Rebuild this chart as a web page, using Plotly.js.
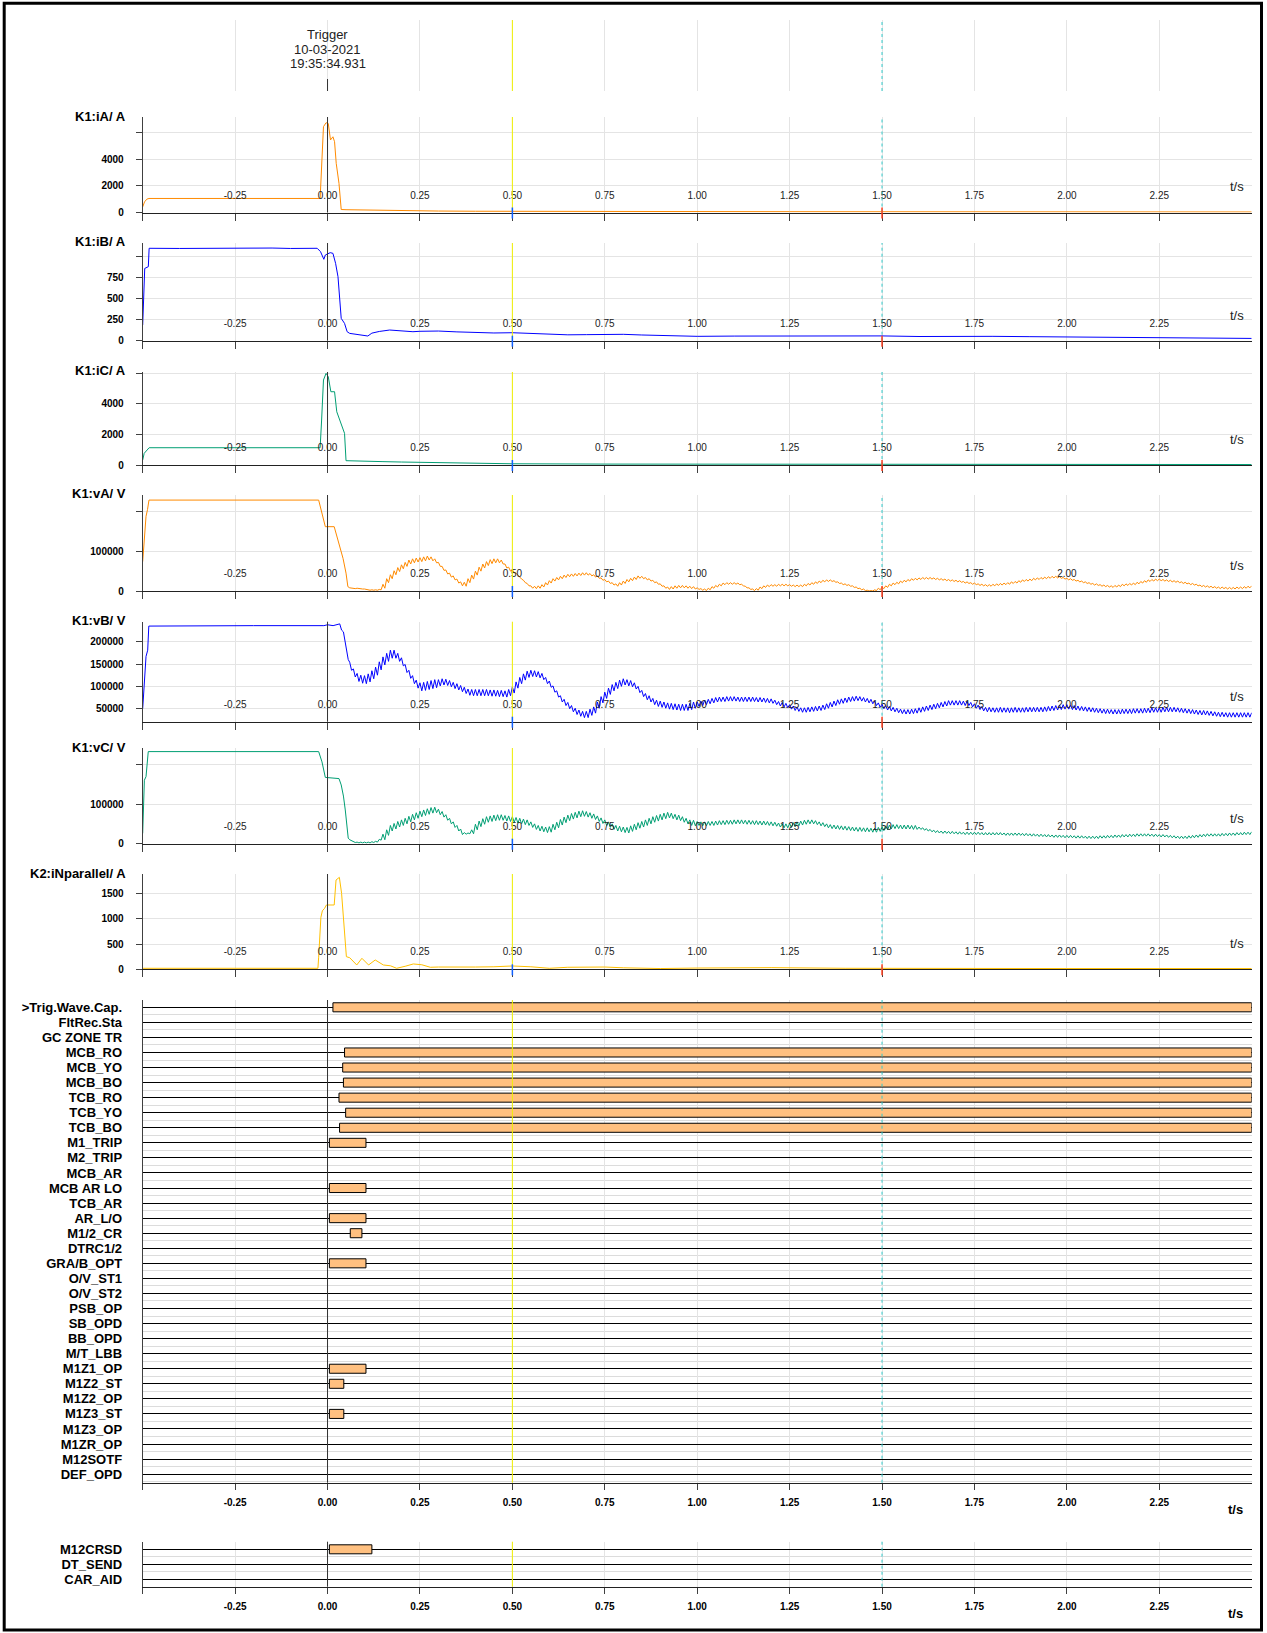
<!DOCTYPE html>
<html><head><meta charset="utf-8">
<script src="https://cdn.plot.ly/plotly-3.0.1.min.js"></script>
<style>html,body{margin:0;padding:0;background:#fff}#chart{width:1267px;height:1633px}</style>
</head><body><div id="chart"></div>
<script>
// ================= DATA =================
const trigLines = ['Trigger', '10-03-2021', '19:35:34.931'];
const xTickVals = [-0.5, -0.25, 0, 0.25, 0.5, 0.75, 1, 1.25, 1.5, 1.75, 2, 2.25];
const xTickText = ['', '-0.25', '0.00', '0.25', '0.50', '0.75', '1.00', '1.25', '1.50', '1.75', '2.00', '2.25'];
const cursorA = 0.5, cursorB = 1.5;

// K1:iA (A)
const iA_t = [-0.5,-0.495,-0.489,-0.483,-0.02,-0.0157,-0.011,-0.004,0.002,0.008,0.0146,0.019,0.0235,0.031,0.037,0.05,0.1,0.15,0.2,0.25,0.3,0.4,0.5,0.75,1.0,1.25,1.5,1.75,2.0,2.25,2.5];
const iA   = [420,800,1000,1057,1057,3440,6460,6760,6700,5460,5700,5330,3700,2190,226,210,180,160,140,126,110,95,85,75,65,60,55,50,45,45,40];
// K1:iB (A)
const iB_t = [-0.5,-0.4985,-0.4975,-0.496,-0.4945,-0.4848,-0.4826,-0.4,-0.3,-0.2,-0.15,-0.1,-0.05,-0.028,-0.019,-0.01,-0.006,0.0072,0.0146,0.0218,0.0283,0.033,0.037,0.046,0.053,0.06,0.087,0.109,0.12,0.14,0.168,0.2,0.231,0.25,0.3,0.35,0.4,0.45,0.5,0.55,0.6,0.65,0.7,0.75,0.8,0.85,0.9,0.95,1.0,1.1,1.2,1.3,1.4,1.5,1.6,1.7,1.8,1.9,2.0,2.1,2.2,2.3,2.4,2.5];
const iB   = [186,444,683,802,860,881,1100,1098,1102,1100,1103,1098,1104,1100,1060,969,1020,1048,1040,921,762,484,266,206,107,87,67,56,90,110,127,115,107,112,115,105,95,92,95,88,80,70,72,78,76,68,60,55,52,55,56,52,55,57,50,55,52,48,45,42,40,35,30,27];
// K1:iC (A)
const iC_t = [-0.5,-0.496,-0.4826,-0.02,-0.016,-0.011,-0.004,0.002,0.009,0.019,0.025,0.037,0.046,0.05,0.104,0.15,0.2,0.25,0.3,0.4,0.5,0.75,1.0,1.25,1.5,1.75,2.0,2.25,2.5];
const iC   = [327,763,1130,1130,2940,5555,5990,5770,4790,4790,3480,2725,2070,281,270,220,195,176,150,110,80,60,50,45,40,35,30,30,30];
// K2:iNparallel (A)
const iN_t = [-0.5,-0.026,-0.024,-0.021,-0.018,-0.014,-0.008,-0.003,0.018,0.023,0.032,0.038,0.045,0.051,0.06,0.079,0.093,0.111,0.129,0.151,0.17,0.187,0.21,0.232,0.255,0.278,0.3,0.35,0.4,0.45,0.5,0.55,0.6,0.65,0.7,0.75,0.8,0.9,1.0,1.2,1.4,1.6,2.0,2.5];
const iN   = [20,20,240,770,1030,1160,1210,1276,1276,1772,1825,1508,845,250,230,86,218,86,185,86,70,20,60,106,90,40,45,40,45,50,66,50,20,40,50,45,30,15,25,33,20,15,15,15];

// Voltages in kV: pre-fault part (irregular times) + post-fault samples from POST_T0 every POST_DT
const POST_T0 = 0.06, POST_DT = 0.005;
const vA_pre_t  = [-0.5,-0.496,-0.491,-0.487,-0.483,-0.024,-0.017,-0.012,-0.006,0.018,0.024,0.033,0.042,0.050,0.055];
const vA_pre_kV = [74,128,188,205,229,229,204,179,162,162,141,110,82,45,11];
const vA_post_kV = [
8,7, 7,6, 7,6, 6,5,
5,4, 3,2, 3,2, 3,2, 4,3, 17,7, 31,21, 41,31, 51,41, 59,49,
66,56, 72,62, 78,68, 81,71, 83,73, 84,74, 86,76, 88,78, 86,76, 81,71,
72,62, 62,52, 53,43, 45,35, 38,28, 30,20, 23,13, 22,12, 31,21, 40,30,
50,40, 60,50, 68,58, 74,64, 79,69, 81,71, 81,71, 78,68, 68,58, 60,50,
53,47, 45,39, 36,30, 27,21, 19,13, 13,7, 12,6, 13,7, 16,10, 21,15,
26,20, 31,25, 34,28, 37,31, 40,34, 42,36, 43,37, 44,38, 45,39, 46,40,
46,40, 44,38, 41,35, 38,32, 33,27, 29,23, 25,19, 21,15, 18,12, 21,15,
25,19, 29,23, 32,26, 35,29, 38,32, 37,31, 34,28, 31,25, 27,21, 23,17,
18,12, 13,7, 10,4, 11,5, 13,7, 14,8, 14,8, 13,7, 12,6, 11,5,
8,4, 6,2, 5,1, 7,3, 11,7, 14,10, 17,13, 20,16, 21,17, 21,17,
21,17, 20,16, 17,13, 12,8, 8,4, 5,1, 6,2, 10,6, 13,9, 15,11,
16,12, 16,12, 17,13, 17,13, 17,13, 16,12, 15,11, 15,11, 15,11, 17,13,
19,15, 21,17, 23,19, 25,21, 27,23, 28,24, 28,24, 26,22, 23,19, 20,16,
18,14, 16,12, 13,9, 10,6, 7,3, 5,1, 2,0, 1,0, 3,1, 7,3,
10,6, 13,9, 17,13, 20,16, 22,18, 25,21, 27,23, 29,25, 31,27, 32,28,
33,29, 34,30, 34,30, 34,30, 33,29, 32,28, 31,27, 30,26, 29,25, 28,24,
27,23, 26,22, 24,20, 23,19, 21,17, 20,16, 18,14, 17,13, 16,12, 16,12,
17,13, 18,14, 19,15, 20,16, 21,17, 23,19, 24,20, 26,22, 28,24, 29,25,
30,26, 32,28, 33,29, 34,30, 35,31, 36,32, 37,33, 37,33, 36,32, 34,30,
32,28, 31,27, 29,25, 27,23, 25,21, 23,19, 21,17, 19,15, 18,14, 16,12,
15,11, 14,10, 13,9, 14,10, 15,11, 17,13, 18,14, 19,15, 20,16, 22,18,
24,20, 26,22, 28,24, 29,25, 30,26, 30,26, 29,25, 28,24, 27,23, 26,22,
25,21, 23,19, 22,18, 20,16, 19,15, 17,13, 15,11, 14,10, 13,9, 12,8,
11,7, 10,6, 10,6, 9,5, 9,5, 9,5, 10,6, 10,6, 11,7, 12,8,
13];

const vB_pre_t  = [-0.5,-0.4964,-0.4937,-0.491,-0.4865,-0.4835,-0.2,-0.1,-0.01,0.0,0.015,0.033,0.038,0.043,0.048,0.052,0.056];
const vB_pre_kV = [50,92,137,167,181,235,236,236,236,238,236,240,226,222,196,174,160];
const vB_post_kV = [
154,136, 139,121, 129,111, 125,107,
124,106, 128,110, 135,117, 143,125, 155,137, 166,148, 174,156, 181,163, 181,163, 174,156,
164,146, 149,131, 136,118, 124,106, 114,96, 108,90, 109,91, 111,93, 113,95, 115,97,
115,101, 117,103, 116,102, 113,99, 109,95, 106,92, 102,88, 98,84, 94,80, 93,79,
93,79, 93,79, 93,79, 93,79, 92,78, 92,78, 91,77, 91,77, 90,76, 93,79,
99,85, 110,96, 120,106, 128,114, 134,120, 136,122, 135,121, 133,119, 129,115, 120,106,
112,98, 101,87, 90,76, 79,65, 71,57, 64,50, 57,43, 51,37, 47,33, 44,30,
44,30, 49,35, 54,40, 65,51, 77,63, 87,73, 96,82, 104,90, 109,95, 114,100,
117,103, 115,101, 113,99, 108,94, 100,86, 91,77, 84,70, 79,65, 73,59, 69,55,
67,53, 65,51, 63,49, 62,48, 61,47, 60,46, 60,46, 60,46, 62,48, 65,51,
65,55, 67,57, 69,59, 71,61, 73,63, 75,65, 76,66, 76,66, 77,67, 77,67,
77,67, 76,66, 76,66, 76,66, 76,66, 76,66, 75,65, 75,65, 74,64, 73,63,
72,62, 69,59, 66,56, 64,54, 62,52, 59,49, 56,46, 54,44, 52,42, 52,42,
53,43, 54,44, 55,45, 56,46, 58,48, 61,51, 64,54, 67,57, 70,60, 72,62,
74,64, 76,66, 77,67, 78,68, 77,67, 75,65, 73,63, 71,61, 67,57, 63,53,
60,50, 57,47, 55,45, 53,43, 51,41, 49,39, 48,38, 48,38, 49,39, 50,40,
52,42, 54,44, 56,46, 58,48, 60,50, 62,52, 64,54, 66,56, 68,58, 68,58,
68,58, 68,58, 67,57, 67,57, 64,54, 61,51, 58,48, 55,45, 53,43, 53,43,
52,42, 52,42, 53,42, 52,42, 52,41, 52,42, 53,42, 52,42, 52,42, 53,43,
53,43, 53,43, 53,43, 53,43, 54,44, 55,45, 56,46, 57,47, 58,48, 59,49,
59,49, 58,48, 57,47, 56,46, 55,45, 54,44, 53,43, 52,42, 51,41, 50,40,
49,39, 49,39, 48,38, 48,38, 48,38, 49,39, 49,39, 49,39, 50,40, 50,40,
50,40, 51,41, 51,41, 52,42, 52,42, 52,42, 53,43, 53,43, 53,43, 53,43,
52,42, 51,41, 50,40, 49,39, 48,38, 47,37, 46,36, 46,36, 45,35, 44,34,
43,33, 42,32, 42,32, 41,31, 41,31, 41,31, 41,31, 41,31, 41,31, 41,31,
41];

const vC_pre_t  = [-0.5,-0.498,-0.4955,-0.491,-0.485,-0.024,-0.015,-0.006,0.031,0.037,0.043,0.048,0.052,0.056];
const vC_pre_kV = [26,76,160,169,232,232,206,167,164,148,120,85,40,14];
const vC_post_kV = [
10,8, 5,3, 4,2, 4,2,
4,2, 4,2, 5,3, 6,4, 11,9, 24,10, 35,21, 46,32, 51,37, 56,42,
60,46, 64,50, 69,55, 74,60, 78,64, 82,68, 85,71, 88,74, 91,77, 92,78,
87,73, 81,67, 73,59, 64,50, 55,41, 46,32, 37,23, 28,24, 27,25, 35,25,
49,35, 57,43, 63,49, 68,54, 70,56, 72,58, 73,59, 73,59, 71,57, 70,56,
68,54, 66,52, 64,50, 62,48, 60,46, 55,41, 50,36, 46,32, 44,30, 42,28,
43,29, 49,35, 54,40, 61,47, 67,53, 72,58, 76,62, 79,65, 82,68, 83,69,
81,67, 78,64, 75,61, 70,56, 65,51, 60,46, 55,41, 50,36, 46,32, 44,30,
42,28, 41,27, 45,31, 49,35, 53,39, 56,42, 60,46, 64,50, 68,54, 71,57,
74,60, 77,63, 79,65, 77,63, 74,60, 72,58, 68,54, 64,50, 60,46, 59,45,
56,46, 55,45, 55,45, 56,46, 56,46, 57,47, 58,48, 58,48, 59,49, 59,49,
60,50, 60,50, 60,50, 59,49, 59,49, 58,48, 58,48, 57,47, 57,47, 56,46,
55,45, 54,44, 52,42, 50,40, 50,40, 51,41, 53,43, 55,45, 57,47, 59,49,
60,50, 60,50, 58,48, 55,45, 53,43, 50,40, 48,38, 47,37, 46,36, 45,35,
44,34, 43,33, 42,32, 41,31, 41,31, 40,30, 40,30, 39,29, 39,29, 41,31,
43,33, 45,35, 47,37, 48,38, 48,38, 47,37, 47,37, 47,37, 46,36, 46,36,
42,36, 40,34, 38,32, 36,30, 34,28, 33,27, 32,26, 32,26, 31,25, 31,25,
30,24, 30,24, 29,23, 29,23, 29,23, 29,23, 29,23, 28,22, 28,22, 28,22,
28,22, 28,22, 28,22, 27,21, 27,21, 27,21, 27,21, 27,21, 26,20, 26,20,
25,19, 25,19, 24,18, 24,18, 23,17, 23,17, 22,16, 22,16, 22,16, 21,15,
21,15, 21,15, 20,14, 20,14, 20,14, 19,13, 19,13, 19,13, 19,13, 20,14,
20,14, 21,15, 21,15, 22,16, 22,16, 23,17, 23,17, 24,18, 24,18, 25,19,
25,19, 25,19, 25,19, 24,18, 24,18, 23,17, 23,17, 22,16, 21,15, 20,14,
19,13, 19,13, 19,13, 20,14, 21,15, 22,16, 23,17, 24,18, 25,19, 25,19,
25,19, 25,19, 26,20, 26,20, 27,21, 27,21, 28,22, 28,22, 29,23, 29,23,
30];

// Binary channels, group 1 (top to bottom)
const digNames = ['>Trig.Wave.Cap.','FltRec.Sta','GC ZONE TR','MCB_RO','MCB_YO','MCB_BO','TCB_RO','TCB_YO','TCB_BO','M1_TRIP','M2_TRIP','MCB_AR','MCB AR LO','TCB_AR','AR_L/O','M1/2_CR','DTRC1/2','GRA/B_OPT','O/V_ST1','O/V_ST2','PSB_OP','SB_OPD','BB_OPD','M/T_LBB','M1Z1_OP','M1Z2_ST','M1Z2_OP','M1Z3_ST','M1Z3_OP','M1ZR_OP','M12SOTF','DEF_OPD'];
const digOnRow   = [0, 3, 4, 5, 6, 7, 8, 9, 12, 14, 15, 17, 24, 25, 27];
const digOnStart = [0.0146, 0.046, 0.041, 0.043, 0.031, 0.049, 0.0325, 0.005, 0.005, 0.005, 0.0615, 0.005, 0.005, 0.005, 0.005];
const digOnEnd   = [2.5, 2.5, 2.5, 2.5, 2.5, 2.5, 2.5, 0.104, 0.104, 0.104, 0.093, 0.104, 0.104, 0.044, 0.044];
// Binary channels, group 2
const dig2Names   = ['M12CRSD', 'DT_SEND', 'CAR_AID'];
const dig2OnRow   = [0];
const dig2OnStart = [0.005];
const dig2OnEnd   = [0.12];

// ================= BUILD =================
const W = 1267, H = 1633;
const FONT = 'Liberation Sans, Arial, sans-serif';
const px = p => p / W, py = p => 1 - p / H;
const XD = [px(142.7), px(1251.7)];
const xr = k => 'x' + (k === 1 ? '' : k), yr = k => 'y' + (k === 1 ? '' : k);
const xa = k => 'xaxis' + (k === 1 ? '' : k), ya = k => 'yaxis' + (k === 1 ? '' : k);
const postT = n => Array.from({length: n}, (_, i) => +(POST_T0 + i * POST_DT).toFixed(4));
const toV = a => a.map(v => v * 1000);

const ORANGE = '#ff8a00', BLUE = '#0000ff', TEAL = '#009e73', GOLD = '#ffc000';
const GRID = '#e4e4e4', AX = '#404040';

const panels = [
  {title: 'K1:iA/ A', top: 117, bot: 212.5, range: [0, 7190], tv: [0, 2000, 4000, 6000], tt: ['0', '2000', '4000', ''],
   x: iA_t, y: iA, color: ORANGE},
  {title: 'K1:iB/ A', top: 243, bot: 340.7, range: [0, 1163], tv: [0, 250, 500, 750, 1000], tt: ['0', '250', '500', '750', ''],
   x: iB_t, y: iB, color: BLUE},
  {title: 'K1:iC/ A', top: 372, bot: 465, range: [0, 6080], tv: [0, 2000, 4000, 6000], tt: ['0', '2000', '4000', ''],
   x: iC_t, y: iC, color: TEAL},
  {title: 'K1:vA/ V', top: 495, bot: 591, range: [0, 241800], tv: [0, 100000, 200000], tt: ['0', '100000', ''],
   x: vA_pre_t.concat(postT(vA_post_kV.length)), y: toV(vA_pre_kV.concat(vA_post_kV)), color: ORANGE},
  {title: 'K1:vB/ V', top: 621.7, bot: 721.7, range: [20850, 244840], tv: [50000, 100000, 150000, 200000], tt: ['50000', '100000', '150000', '200000'],
   x: vB_pre_t.concat(postT(vB_post_kV.length)), y: toV(vB_pre_kV.concat(vB_post_kV)), color: BLUE},
  {title: 'K1:vC/ V', top: 748, bot: 843.7, range: [0, 241060], tv: [0, 100000, 200000], tt: ['0', '100000', ''],
   x: vC_pre_t.concat(postT(vC_post_kV.length)), y: toV(vC_pre_kV.concat(vC_post_kV)), color: TEAL},
  {title: 'K2:iNparallel/ A', top: 874, bot: 969.3, range: [0, 1891], tv: [0, 500, 1000, 1500], tt: ['0', '500', '1000', '1500'],
   x: iN_t, y: iN, color: GOLD}
];

const data = [], layout = {
  width: W, height: H, margin: {l: 0, r: 0, t: 0, b: 0}, showlegend: false,
  paper_bgcolor: '#fff', plot_bgcolor: 'rgba(0,0,0,0)', font: {family: FONT, color: '#000'},
  shapes: [], annotations: []
};

function vlines(k, top, bot) {
  layout.shapes.push(
    {type: 'line', xref: xr(k), yref: 'paper', x0: 0, x1: 0, y0: py(bot), y1: py(top), line: {color: '#333', width: 1}},
    {type: 'line', xref: xr(k), yref: 'paper', x0: cursorA, x1: cursorA, y0: py(bot), y1: py(top), line: {color: '#f0f000', width: 1}},
    {type: 'line', xref: xr(k), yref: 'paper', x0: cursorB, x1: cursorB, y0: py(bot), y1: py(top), line: {color: '#33cccc', width: 1, dash: '3px,3px'}}
  );
}

panels.forEach((p, i) => {
  const k = i + 1;
  data.push({type: 'scatter', mode: 'lines', x: p.x, y: p.y, xaxis: xr(k), yaxis: yr(k),
    line: {color: p.color, width: 1}, hoverinfo: 'skip'});
  // time labels: outside labels pulled up above the zero line with a negative standoff
  layout[xa(k)] = {domain: XD, range: [-0.5, 2.5], anchor: yr(k), tickmode: 'array', tickvals: xTickVals, ticktext: xTickText,
    ticks: 'outside', ticklen: 7, tickcolor: AX, showline: true, linecolor: '#222', linewidth: 1,
    showgrid: true, gridcolor: GRID, zeroline: false, ticklabelstandoff: -34,
    tickfont: {family: FONT, size: 10, color: '#222'}};
  // overlay axis: upper half of the crossing tick marks
  layout[xa(10 + k)] = {domain: XD, range: [-0.5, 2.5], anchor: yr(k), overlaying: xr(k), tickmode: 'array', tickvals: xTickVals,
    ticks: 'inside', ticklen: 5, tickcolor: AX, showticklabels: false, showgrid: false, showline: false, zeroline: false};
  layout[ya(k)] = {domain: [py(p.bot), py(p.top)], range: p.range, anchor: xr(k), tickmode: 'array', tickvals: p.tv, ticktext: p.tt,
    ticks: 'outside', ticklen: 6, tickcolor: AX, showline: true, linecolor: AX, linewidth: 1,
    showgrid: true, gridcolor: GRID, zeroline: false, ticklabelstandoff: 10,
    tickfont: {family: FONT, size: 10, weight: 700, color: '#000'}};
  vlines(k, p.top, p.bot);
  // cursor marks on the time axis
  layout.shapes.push(
    {type: 'line', xref: xr(k), yref: 'paper', y0: py(p.bot + 6), y1: py(p.bot - 5), x0: cursorA, x1: cursorA, line: {color: '#1060ff', width: 1.5}},
    {type: 'line', xref: xr(k), yref: 'paper', y0: py(p.bot + 6), y1: py(p.bot - 5), x0: cursorB, x1: cursorB, line: {color: '#ff4020', width: 1.5}}
  );
  layout.annotations.push(
    {xref: 'paper', yref: 'paper', x: px(127.5), y: py(p.top - 1), xanchor: 'right', yanchor: 'middle', showarrow: false,
     text: p.title, font: {family: FONT, size: 13, weight: 700, color: '#000'}},
    {xref: 'paper', yref: 'paper', x: px(1236.7), y: py(p.bot - 25.6), xanchor: 'center', yanchor: 'middle', showarrow: false,
     text: 't/s', font: {family: FONT, size: 13, color: '#222'}}
  );
});

// digital groups
function digital(k, names, rows, starts, ends, top, bot, rowTop, rowStep) {
  const n = names.length;
  const r0 = (top - rowTop) / rowStep, r1 = (bot - rowTop) / rowStep;
  data.push({type: 'bar', orientation: 'h', y: rows, base: starts, x: ends.map((e, i) => e - starts[i]),
    width: 0.6, xaxis: xr(k), yaxis: yr(k), marker: {color: '#ffc080', line: {color: '#000', width: 1}}, hoverinfo: 'skip'});
  layout[xa(k)] = {domain: XD, range: [-0.5, 2.5], anchor: yr(k), tickmode: 'array', tickvals: xTickVals, ticktext: xTickText,
    ticks: 'outside', ticklen: 6, tickcolor: AX, showline: true, linecolor: '#222', linewidth: 1,
    showgrid: true, gridcolor: GRID, zeroline: false, ticklabelstandoff: 4,
    tickfont: {family: FONT, size: 10, weight: 700, color: '#000'}};
  const minorVals = [];
  for (let i = 0; i < n; i++) minorVals.push(i + 0.5);
  layout[ya(k)] = {domain: [py(bot), py(top)], range: [r1, r0], anchor: xr(k), tickmode: 'array',
    tickvals: names.map((_, i) => i), ticktext: names, ticks: '', showline: true, linecolor: AX,
    showgrid: true, gridcolor: '#000', gridwidth: 1, zeroline: false, ticklabelstandoff: 17,
    minor: {tickmode: 'array', tickvals: minorVals, showgrid: true, gridcolor: '#dcdcdc', ticks: ''},
    tickfont: {family: FONT, size: 13, weight: 700, color: '#000'}};
  vlines(k, top, bot);
  layout.annotations.push({xref: 'paper', yref: 'paper', x: px(1235), y: py(bot + 27), xanchor: 'center', yanchor: 'middle',
    showarrow: false, text: 't/s', font: {family: FONT, size: 13, weight: 700, color: '#000'}});
}
digital(8, digNames, digOnRow, digOnStart, digOnEnd, 1000, 1482.7, 1007.3, 15.06);
digital(9, dig2Names, dig2OnRow, dig2OnStart, dig2OnEnd, 1541.7, 1586.7, 1549.3, 15);

// top trigger area
layout[xa(10)] = {domain: XD, range: [-0.5, 2.5], anchor: yr(10), tickmode: 'array', tickvals: xTickVals,
  showticklabels: false, ticks: '', showline: false, showgrid: true, gridcolor: GRID, zeroline: false};
layout[ya(10)] = {domain: [py(91), py(20)], range: [0, 1], anchor: xr(10), visible: false};
layout.shapes.push(
  {type: 'line', xref: xr(10), yref: 'paper', x0: cursorA, x1: cursorA, y0: py(91), y1: py(20), line: {color: '#f0f000', width: 1}},
  {type: 'line', xref: xr(10), yref: 'paper', x0: cursorB, x1: cursorB, y0: py(91), y1: py(20), line: {color: '#33cccc', width: 1, dash: '3px,3px'}},
  {type: 'line', xref: xr(10), yref: 'paper', x0: 0, x1: 0, y0: py(91), y1: py(79), line: {color: '#333', width: 1}}
);
trigLines.forEach((t, i) => layout.annotations.push({xref: xr(10), yref: 'paper', x: 0, y: py(34 + 15 * i), xanchor: 'center',
  yanchor: 'middle', showarrow: false, text: t, font: {family: FONT, size: 13, color: '#222'}}));

// outer frame
layout.shapes.push({type: 'rect', xref: 'paper', yref: 'paper', x0: px(4.2), x1: px(1261.5), y0: py(1630), y1: py(3.2),
  line: {color: '#000', width: 3}, fillcolor: 'rgba(0,0,0,0)'});

Plotly.newPlot('chart', data, layout, {staticPlot: true});
</script>
</body></html>
